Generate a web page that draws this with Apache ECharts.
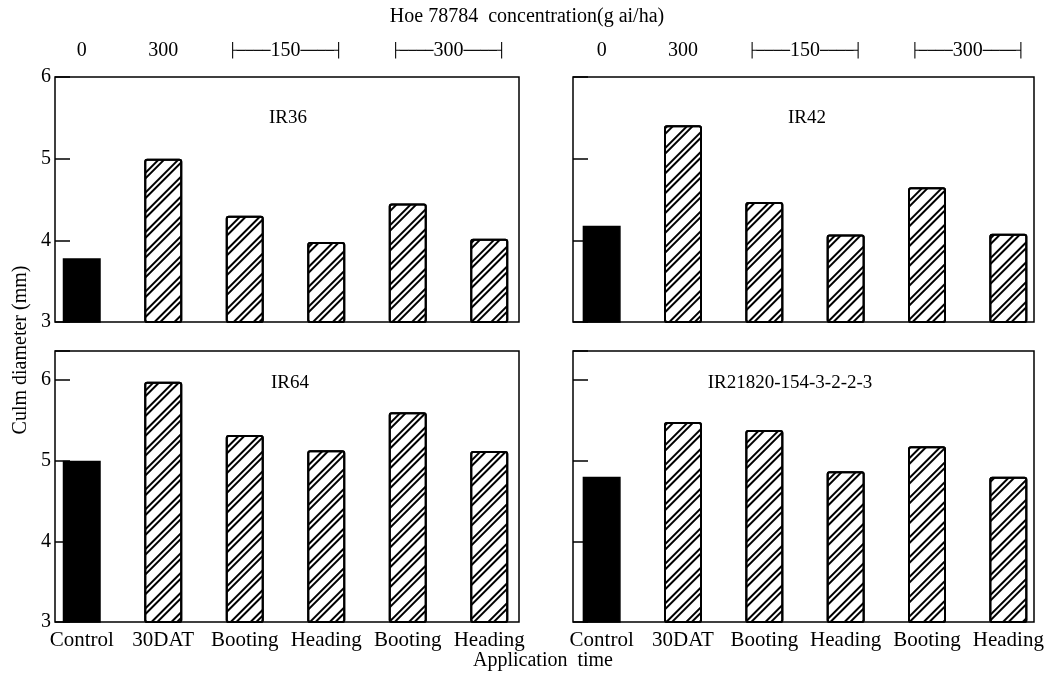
<!DOCTYPE html>
<html lang="en">
<head>
<meta charset="UTF-8">
<title>Culm diameter</title>
<script src="https://cdn.jsdelivr.net/npm/echarts@6/dist/echarts.min.js"></script>
<style>
  html, body { margin: 0; padding: 0; background: #fff; }
  #chart { width: 1059px; height: 679px; }
</style>
</head>
<body>
<div id="chart"></div>
<script>
// application time on the x axis
var categories = ['Control', '30DAT', 'Booting', 'Heading', 'Booting', 'Heading'];
// Hoe 78784 concentration shown above the top panels, and the slot it sits over
var concLabels = ['0', '300', '150', '300'];
var concSlots = [0, 1, 2.5, 4.5];
var bracketed = [false, false, true, true];
// culm diameter (mm), one array per variety
var varieties = ['IR36', 'IR42', 'IR64', 'IR21820-154-3-2-2-3'];
var ir36 = [3.78, 5.0, 4.3, 3.98, 4.45, 4.02];
var ir42 = [4.18, 5.41, 4.47, 4.07, 4.65, 4.08];
var ir64 = [5.0, 5.98, 5.32, 5.13, 5.6, 5.12];
var ir21820 = [4.8, 5.48, 5.38, 4.87, 5.18, 4.8];

var serif = '"Liberation Serif", "Times New Roman", serif';

// panel layout
var panels = [
    { name: varieties[0], data: ir36,    left: 55,  width: 464, barLeft: 41,  barWidth: 489, top: 77,  height: 245, max: 6,    yLabels: true,  xLabels: false, conc: true,  nameX: 288, nameY: 118 },
    { name: varieties[1], data: ir42,    left: 573, width: 461, barLeft: 561, barWidth: 488, top: 77,  height: 245, max: 6,    yLabels: false, xLabels: false, conc: true,  nameX: 807, nameY: 118 },
    { name: varieties[2], data: ir64,    left: 55,  width: 464, barLeft: 41,  barWidth: 489, top: 351, height: 271, max: 6.36, yLabels: true,  xLabels: true,  conc: false, nameX: 290, nameY: 383 },
    { name: varieties[3], data: ir21820, left: 573, width: 461, barLeft: 561, barWidth: 488, top: 351, height: 271, max: 6.36, yLabels: false, xLabels: true,  conc: false, nameX: 790, nameY: 383 }
];

var grids = [], xAxes = [], yAxes = [], series = [], texts = [];

function concFormatter(v) {
    var i = concSlots.indexOf(Math.round(v * 10) / 10);
    if (i < 0) return '';
    if (bracketed[i]) return '{b|├────}{n|' + concLabels[i] + '}{b|────┤}';
    return '{n|' + concLabels[i] + '}';
}

panels.forEach(function (p) {
    // frame grid: box + y ticks
    var gf = grids.length;
    grids.push({ left: p.left, top: p.top, width: p.width, height: p.height, show: true,
        borderColor: '#000', borderWidth: 1.5, backgroundColor: 'transparent' });
    xAxes.push({ gridIndex: gf, type: 'value', show: false });
    yAxes.push({
        gridIndex: gf, type: 'value', min: 3, max: p.max, interval: 1,
        axisLine: { show: false },
        axisTick: { show: true, inside: true, length: 15, lineStyle: { color: '#000', width: 1.5 } },
        axisLabel: { show: p.yLabels, margin: 4, color: '#000', fontFamily: serif, fontSize: 20,
            formatter: function (v) { return Number.isInteger(v) ? String(v) : ''; } },
        splitLine: { show: false }
    });

    // bar grid
    var gb = grids.length;
    grids.push({ left: p.barLeft, top: p.top, width: p.barWidth, height: p.height });
    var xCat = xAxes.length;
    xAxes.push({
        gridIndex: gb, type: 'category', data: categories,
        axisLine: { show: false }, axisTick: { show: false },
        axisLabel: { show: p.xLabels, interval: 0, margin: 8, color: '#000', fontFamily: serif, fontSize: 21 }
    });
    if (p.conc) {
        xAxes.push({
            gridIndex: gb, type: 'value', position: 'top', min: -0.5, max: 5.5, interval: 0.5,
            axisLine: { show: false }, axisTick: { show: false }, splitLine: { show: false },
            axisLabel: {
                margin: 16, formatter: concFormatter,
                rich: {
                    n: { fontFamily: serif, fontSize: 20, color: '#000' },
                    b: { fontFamily: '"DejaVu Sans"', fontSize: 14, color: '#000' }
                }
            }
        });
    }
    var yb = yAxes.length;
    yAxes.push({ gridIndex: gb, type: 'value', min: 3, max: p.max, show: false });

    series.push({
        type: 'bar', xAxisIndex: xCat, yAxisIndex: yb, barWidth: 38, barGap: '-100%',
        data: p.data.map(function (v, i) { return i === 0 ? v : '-'; }),
        itemStyle: { color: '#000', borderColor: '#000', borderWidth: 1.5 }
    });
    series.push({
        type: 'bar', xAxisIndex: xCat, yAxisIndex: yb, barWidth: 38, barGap: '-100%',
        data: p.data.map(function (v, i) { return i === 0 ? '-' : v; }),
        itemStyle: {
            color: '#fff', borderColor: '#000', borderWidth: 2, borderRadius: 2,
            decal: { symbol: 'rect', symbolSize: 1, color: '#000', dashArrayX: [1, 0],
                dashArrayY: [1.3, 1.7, 1.1, 8], rotation: -Math.PI / 4 }
        }
    });

    texts.push({ type: 'text', x: p.nameX, y: p.nameY,
        style: { text: p.name, font: '19px ' + serif, fill: '#000',
            textAlign: 'center', textVerticalAlign: 'middle', align: 'center', verticalAlign: 'middle' } });
});

texts.push({ type: 'text', x: 527, y: 17,
    style: { text: 'Hoe 78784  concentration(g ai/ha)', font: '20px ' + serif, fill: '#000',
        textAlign: 'center', textVerticalAlign: 'middle', align: 'center', verticalAlign: 'middle' } });
texts.push({ type: 'text', x: 543, y: 661,
    style: { text: 'Application  time', font: '20px ' + serif, fill: '#000',
        textAlign: 'center', textVerticalAlign: 'middle', align: 'center', verticalAlign: 'middle' } });
texts.push({ type: 'text', x: 21, y: 350, rotation: Math.PI / 2,
    style: { text: 'Culm diameter (mm)', font: '20px ' + serif, fill: '#000',
        textAlign: 'center', textVerticalAlign: 'middle', align: 'center', verticalAlign: 'middle' } });

var chart = echarts.init(document.getElementById('chart'));
chart.setOption({
    animation: false,
    backgroundColor: '#fff',
    grid: grids,
    xAxis: xAxes,
    yAxis: yAxes,
    series: series,
    graphic: texts
});
</script>
</body>
</html>
